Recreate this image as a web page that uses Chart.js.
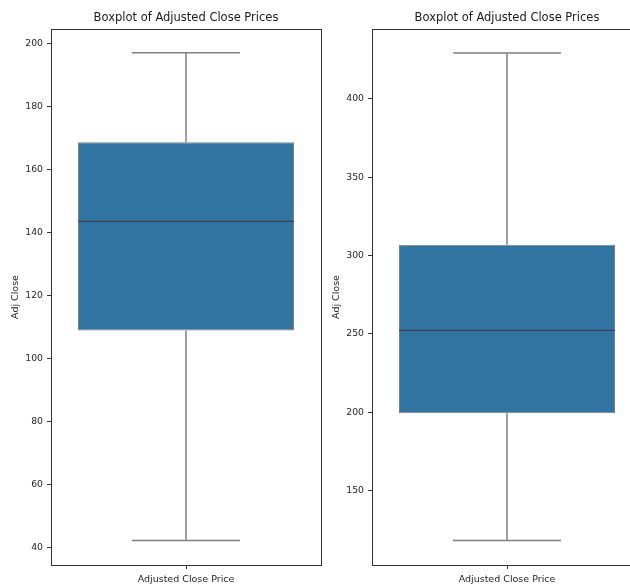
<!DOCTYPE html>
<html>
<head>
<meta charset="utf-8">
<script src="https://cdn.jsdelivr.net/npm/chart.js@4.4.1/dist/chart.umd.min.js"></script>
<style>
  html, body { margin: 0; padding: 0; overflow: hidden; background: #fff; }
  #wrap { position: relative; width: 630px; height: 586px; overflow: hidden; }
  canvas { position: absolute; top: 0; }
</style>
</head>
<body>
<div id="wrap">
  <canvas id="left" width="323" height="586" style="left:0px"></canvas>
  <canvas id="right" width="323" height="586" style="left:321px"></canvas>
</div>
<script>
// Box statistics of the adjusted close price, one entry per panel
const categories = ['Adjusted Close Price'];
const lowerWhiskers = [42.3, 118.3];
const firstQuartiles = [108.9, 199.4];
const medians = [143.5, 252.3];
const thirdQuartiles = [168.6, 306.8];
const upperWhiskers = [197.0, 429.2];

// Value axis ranges and tick labels
const yMins = [34.5, 102.6];
const yMaxs = [204.5, 444.5];
const leftTicks = [40, 60, 80, 100, 120, 140, 160, 180, 200];
const rightTicks = [150, 200, 250, 300, 350, 400];

const titleText = 'Boxplot of Adjusted Close Prices';
const yTitle = 'Adj Close';

const BOX_FILL = '#3274a1';
const LINE_GRAY = '#808080';
const MEDIAN_COLOR = '#3a4550';
const FRAME = '#333333';
const TEXT = '#262626';
const FONT = "'DejaVu Sans', sans-serif";

// Draws whiskers, caps, the median line and the axes frame from the scales
const whiskerPlugin = {
  id: 'whiskers',
  afterDatasetsDraw(chart, args, opts) {
    const i = opts.index;
    const x = chart.scales.x;
    const y = chart.scales.y;
    const cx = x.getPixelForValue(0);
    const half = (x.right - x.left) * 0.8 / 2;
    const cap = half / 2;
    const ctx = chart.ctx;
    ctx.save();
    ctx.lineWidth = 1.5;
    ctx.strokeStyle = LINE_GRAY;
    const yLo = y.getPixelForValue(lowerWhiskers[i]);
    const yQ1 = y.getPixelForValue(firstQuartiles[i]);
    const yQ3 = y.getPixelForValue(thirdQuartiles[i]);
    const yHi = y.getPixelForValue(upperWhiskers[i]);
    ctx.beginPath();
    ctx.moveTo(cx, yHi); ctx.lineTo(cx, yQ3);
    ctx.moveTo(cx, yQ1); ctx.lineTo(cx, yLo);
    ctx.moveTo(cx - cap, yHi); ctx.lineTo(cx + cap, yHi);
    ctx.moveTo(cx - cap, yLo); ctx.lineTo(cx + cap, yLo);
    ctx.stroke();
    const yMed = y.getPixelForValue(medians[i]);
    ctx.strokeStyle = MEDIAN_COLOR;
    ctx.lineWidth = 1.2;
    ctx.beginPath();
    ctx.moveTo(cx - half, yMed); ctx.lineTo(cx + half, yMed);
    ctx.stroke();
    const a = chart.chartArea;
    ctx.strokeStyle = FRAME;
    ctx.lineWidth = 1;
    ctx.strokeRect(Math.round(a.left) + 0.5, Math.round(a.top) + 0.5,
                   Math.round(a.right - a.left), Math.round(a.bottom - a.top));
    ctx.restore();
  }
};

function makeChart(id, i, ticks) {
  return new Chart(document.getElementById(id), {
    type: 'bar',
    data: {
      labels: categories,
      datasets: [{
        data: [[firstQuartiles[i], thirdQuartiles[i]]],
        backgroundColor: BOX_FILL,
        borderColor: LINE_GRAY,
        borderWidth: 1,
        borderSkipped: false,
        barPercentage: 0.8,
        categoryPercentage: 1
      }]
    },
    options: {
      responsive: false,
      animation: false,
      devicePixelRatio: 1,
      layout: { padding: { left: 0, top: 0, bottom: 0, right: 2 } },
      plugins: {
        legend: { display: false },
        tooltip: { enabled: false },
        title: {
          display: true,
          fullSize: false,
          text: titleText,
          color: '#1a1a1a',
          font: { family: FONT, size: 11.5, weight: 'normal', lineHeight: 1.2 },
          padding: { top: 11.6, bottom: 3.6 }
        },
        whiskers: { index: i }
      },
      scales: {
        x: {
          offset: true,
          grid: { offset: false, drawOnChartArea: false, color: FRAME, tickLength: 4, tickWidth: 1 },
          border: { display: false },
          ticks: { color: TEXT, padding: 5, font: { family: FONT, size: 9.5 } },
          afterFit(scale) { scale.height = 21; }
        },
        y: {
          min: yMins[i],
          max: yMaxs[i],
          grid: { drawOnChartArea: false, color: FRAME, tickLength: 4, tickWidth: 1 },
          border: { display: false },
          ticks: { color: TEXT, padding: 4, includeBounds: false, font: { family: FONT, size: 9.3 } },
          afterBuildTicks(scale) { scale.ticks = ticks.map(v => ({ value: v })); },
          afterFit(scale) { scale.width = 51; },
          title: {
            display: true,
            text: yTitle,
            color: TEXT,
            font: { family: FONT, size: 9.5, lineHeight: 1.2 },
            padding: { top: 9.5, bottom: 0 }
          }
        }
      }
    },
    plugins: [whiskerPlugin]
  });
}

makeChart('left', 0, leftTicks);
makeChart('right', 1, rightTicks);
</script>
</body>
</html>
